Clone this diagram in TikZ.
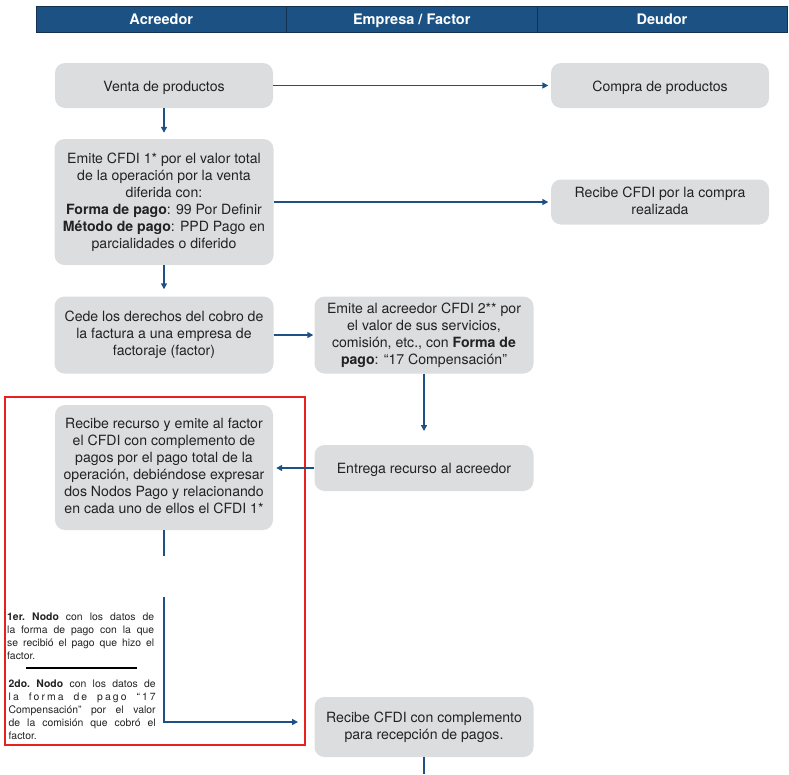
\documentclass[tikz,border=0pt]{standalone}
\usepackage{fontspec}
\setmainfont{TeX Gyre Heros}
\usetikzlibrary{arrows.meta}
\definecolor{hdr}{HTML}{1B5283}
\definecolor{hdrline}{HTML}{16304F}
\definecolor{boxg}{HTML}{DCDDDF}
\definecolor{arr}{HTML}{1D5186}
\definecolor{txt}{HTML}{222222}
\definecolor{redb}{HTML}{E8211E}
\newcommand\boxtopstrut{\rule{0pt}{14.5pt}}
\newcommand\boxbotstrut{\rule[-3.5pt]{0pt}{3.5pt}}
\tikzset{
  hdrcell/.style={draw=hdrline, line width=0.8pt, fill=hdr, text=white, inner sep=0pt,
    minimum height=26pt, text height=11pt, text depth=1pt,
    font=\fontsize{14.5}{16}\selectfont\bfseries},
  box/.style={rounded corners=10pt, fill=boxg, text=txt, align=center, inner sep=0pt,
    font=\fontsize{14.1}{17}\selectfont,
    execute at begin node=\boxtopstrut, execute at end node=\boxbotstrut},
  conn/.style={draw=arr, line width=1.4pt},
  arrow/.style={conn, -{Triangle[length=6pt,width=6pt]}},
  note/.style={text width=147pt, align=justify, inner sep=0pt, text=txt,
    font=\fontsize{10.4}{13}\selectfont\frenchspacing},
  redframe/.style={draw=redb, line width=1.8pt, inner sep=0pt}
}
\begin{document}
\begin{tikzpicture}[x=1pt,y=-1pt]
\useasboundingbox (0,0) rectangle (789,774);
% header
\node[hdrcell, minimum width=250.5pt] (hA) at (161.25,19) {Acreedor};
\node[hdrcell, minimum width=250.5pt] (hB) at (411.75,19) {Empresa / Factor};
\node[hdrcell, minimum width=250pt] (hC) at (662,19) {Deudor};
% red frame
\node[redframe, minimum width=300pt, minimum height=348pt] (redbox) at (155,571) {};
% boxes
\node[box, minimum width=218pt, minimum height=45pt] (venta) at (164,85.5) {Venta de productos};
\node[box, minimum width=218pt, minimum height=45pt] (compra) at (660,85.5) {Compra de productos};
\node[box, minimum width=219pt, minimum height=126pt] (emite1) at (164,202) {Emite CFDI 1* por el valor total\\ de la operación por la venta\\ diferida con:\\ \textbf{Forma de pago}: 99 Por Definir\\ \textbf{Método de pago}: PPD Pago en\\ parcialidades o diferido};
\node[box, minimum width=218pt, minimum height=45pt] (recibec) at (660,202) {Recibe CFDI por la compra\\ realizada};
\node[box, minimum width=219pt, minimum height=77pt] (cede) at (164,335) {Cede los derechos del cobro de\\ la factura a una empresa de\\ factoraje (factor)};
\node[box, minimum width=219pt, minimum height=77pt] (emite2) at (424,335) {Emite al acreedor CFDI 2** por\\ el valor de sus servicios,\\ comisión, etc., con \textbf{Forma de}\\ \textbf{pago}: “17 Compensación”};
\node[box, minimum width=218pt, minimum height=125pt] (recibe) at (164,467.5) {Recibe recurso y emite al factor\\ el CFDI con complemento de\\ pagos por el pago total de la\\ operación, debiéndose expresar\\ dos Nodos Pago y relacionando\\ en cada uno de ellos el CFDI 1*};
\node[box, minimum width=219pt, minimum height=46pt] (entrega) at (424,468) {Entrega recurso al acreedor};
\node[box, minimum width=219pt, minimum height=60pt] (recibef) at (424,727) {Recibe CFDI con complemento\\ para recepción de pagos.};
% notes
\node[note, anchor=north west] (n1) at (7,613) {\textbf{1er. Nodo} con los datos de\linebreak la forma de pago con la que\linebreak se recibió el pago que hizo el\linebreak factor.};
\node[note, anchor=north west] (n2) at (8.5,680) {\textbf{2do. Nodo} con los datos de\linebreak {\addfontfeature{LetterSpace=20}la forma de pago “17}\linebreak Compensación” por el valor\linebreak de la comisión que cobró el\linebreak factor.};
\coordinate (sepA) at (26,668);
\coordinate (sepB) at (137,668);
\draw[black, line width=1.2pt] (sepA) -- (sepB);
% connectors
\coordinate (c1) at (424,431);
\coordinate (c2) at (164,556);
\coordinate (c3) at (164,597);
\coordinate (c4) at (164,722);
\coordinate (c5) at (298,722);
\coordinate (c6) at (424,774);
\draw[arrow, shorten >=2.5pt] (venta.east) -- (compra.west);
\draw[arrow, shorten >=6pt] (venta.south) -- (emite1.north);
\draw[arrow, shorten >=2.5pt] (emite1.east) -- (recibec.west);
\draw[arrow, shorten >=7pt] (emite1.south) -- (cede.north);
\draw[arrow, shorten >=1pt] (cede.east) -- (emite2.west);
\draw[arrow] (emite2.south) -- (c1);
\draw[arrow, shorten >=3pt] (entrega.west) -- (recibe.east |- entrega.west);
\draw[conn] (recibe.south) -- (c2);
\draw[arrow] (c3) -- (c4) -- (c5);
\draw[conn] (recibef.south) -- (c6);
\end{tikzpicture}
\end{document}
